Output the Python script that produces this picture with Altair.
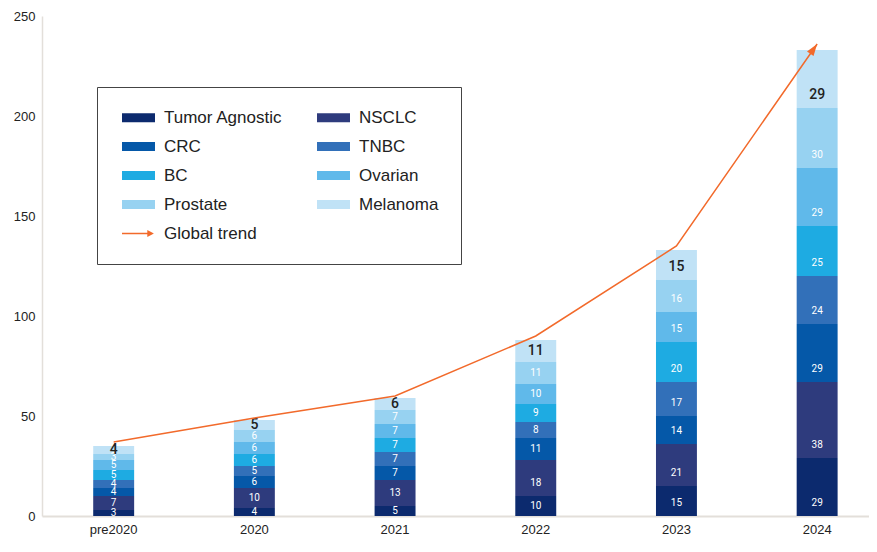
import altair as alt
import pandas as pd

years = ["pre2020", "2020", "2021", "2022", "2023", "2024"]
series = ["Tumor Agnostic", "NSCLC", "CRC", "TNBC", "BC", "Ovarian", "Prostate", "Melanoma"]
colors = ["#0c2a6e", "#2e3b7d", "#0558a8", "#3270b9", "#1eabe2", "#60b9ea", "#97d2f1", "#c0e2f6"]

tumor_agnostic = [3, 4, 5, 10, 15, 29]
nsclc = [7, 10, 13, 18, 21, 38]
crc = [4, 6, 7, 11, 14, 29]
tnbc = [4, 5, 7, 8, 17, 24]
bc = [5, 6, 7, 9, 20, 25]
ovarian = [5, 6, 7, 10, 15, 29]
prostate = [3, 6, 7, 11, 16, 30]
melanoma = [4, 5, 6, 11, 15, 29]

trend = [37, 49, 60, 90, 135, 236]
trend_label = "Global trend"
trend_color = "#f26a2b"

values = [tumor_agnostic, nsclc, crc, tnbc, bc, ovarian, prostate, melanoma]
rows = []
for i, (s, vals) in enumerate(zip(series, values)):
    for y, v in zip(years, vals):
        rows.append({"year": y, "series": s, "value": v, "idx": i})
df = pd.DataFrame(rows)
trend_df = pd.DataFrame({"year": years, "trend": trend})

FONT = "Liberation Sans"

x_enc = alt.X(
    "year:N",
    sort=years,
    scale=alt.Scale(paddingInner=0.709, paddingOuter=0.2935, align=0.62),
    axis=alt.Axis(title=None, labelAngle=0, ticks=False, domainColor="#e3dfda",
                  domainWidth=2, labelFontSize=13, labelColor="#222",
                  labelPadding=7, labelFont=FONT),
)
y_scale = alt.Scale(domain=[0, 250])
y_axis = alt.Axis(title=None, values=[0, 50, 100, 150, 200, 250], grid=False, ticks=False,
                  domainColor="#e3dfda", domainWidth=1.5, labelFontSize=13,
                  labelColor="#222", labelPadding=7, labelFont=FONT)

rect_path = "M-3,-0.8L3,-0.8L3,0.8L-3,0.8Z"
arrow_path = "M-3,-0.13L1.6,-0.13L1.6,-0.62L2.8,0L1.6,0.62L1.6,0.13L-3,0.13Z"

legend_domain = series + [trend_label]
color_scale = alt.Scale(domain=legend_domain, range=colors + [trend_color])
shape_scale = alt.Scale(domain=legend_domain, range=[rect_path] * len(series) + [arrow_path])


def make_legend():
    return alt.Legend(
        title=None, orient="none", legendX=55, legendY=71, columns=2,
        direction="horizontal",
        columnPadding=31, rowPadding=11, symbolSize=121, symbolOffset=11,
        labelOffset=17, labelFontSize=17, labelFont=FONT, labelColor="#222",
        labelLimit=300, padding=22, strokeColor="#444", fillColor="white",
        symbolStrokeWidth=0, symbolOpacity=1,
    )


bars = alt.Chart(df).mark_bar().encode(
    x=x_enc,
    y=alt.Y("value:Q", stack=True, scale=y_scale, axis=y_axis),
    color=alt.Color("series:N", scale=color_scale, legend=make_legend()),
    order=alt.Order("idx:Q", sort="ascending"),
)

legend_layer = alt.Chart(df).transform_filter("false").mark_point(filled=True, opacity=1).encode(
    x=x_enc,
    y=alt.Y("value:Q", stack=None, scale=y_scale, axis=y_axis),
    color=alt.Color("series:N", scale=color_scale, legend=make_legend()),
    shape=alt.Shape("series:N", scale=shape_scale, legend=make_legend()),
)

base_text = alt.Chart(df).transform_stack(
    stack="value", groupby=["year"], as_=["v0", "v1"],
    sort=[alt.SortField("idx", order="ascending")],
).transform_calculate(ypos="datum.v0 + min(datum.value / 2, 6.5)")

inner_text = base_text.transform_filter(alt.datum.series != "Melanoma").mark_text(
    color="white", fontSize=10, baseline="middle", font="Roboto"
).encode(x=x_enc, y=alt.Y("ypos:Q", scale=y_scale, axis=y_axis), text="value:Q")

top_text = base_text.transform_filter(alt.datum.series == "Melanoma").mark_text(
    color="#222", fontSize=14, baseline="middle", font="Roboto", fontWeight=500
).encode(x=x_enc, y=alt.Y("ypos:Q", scale=y_scale, axis=y_axis), text="value:Q")

line = alt.Chart(trend_df).mark_line(color=trend_color, strokeWidth=1.5).encode(
    x=x_enc, y=alt.Y("trend:Q", scale=y_scale, axis=y_axis)
)

head = alt.Chart(trend_df).transform_filter(alt.datum.year == years[-1]).mark_point(
    shape="M0,0L-0.8,2.4L0.8,2.4Z", size=100, angle=35, filled=True,
    color=trend_color, opacity=1
).encode(x=x_enc, y=alt.Y("trend:Q", scale=y_scale, axis=y_axis))

chart = alt.layer(bars, legend_layer, inner_text, top_text, line, head).properties(
    width=827, height=500,
    padding={"left": 34, "top": 8, "right": 0, "bottom": 24},
    autosize="none",
).configure_view(stroke=None)

chart.save("out.html", embed_options={"renderer": "svg", "actions": False})
